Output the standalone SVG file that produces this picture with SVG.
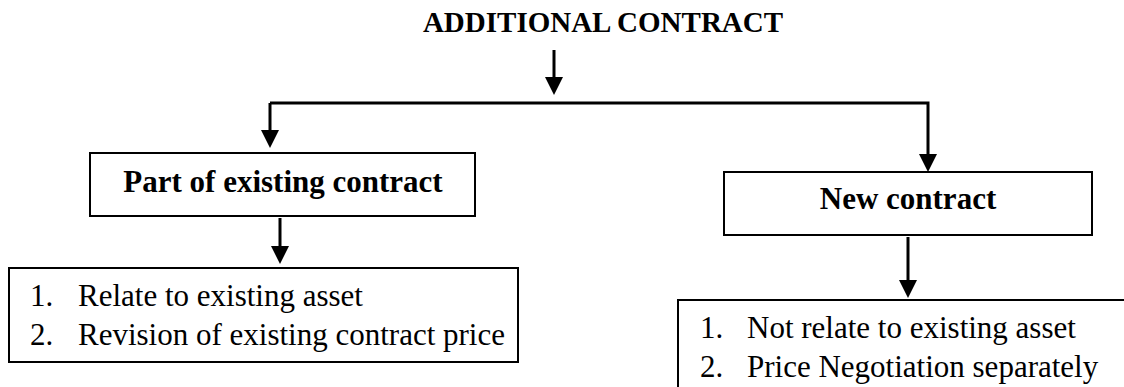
<svg xmlns="http://www.w3.org/2000/svg" width="1124" height="387" viewBox="0 0 1124 387">
  <defs>
    <style>
      .box { fill: #ffffff; stroke: #000000; stroke-width: 2; }
      .link { fill: none; stroke: #000000; stroke-width: 3; stroke-linejoin: miter; }
      .title { font-family: "Liberation Serif", "Times New Roman", serif; font-weight: bold; font-size: 29px; fill: #000000; }
      .head { font-family: "Liberation Serif", "Times New Roman", serif; font-weight: bold; font-size: 31px; fill: #000000; }
      .item { font-family: "Liberation Serif", "Times New Roman", serif; font-size: 31px; fill: #000000; }
    </style>
    <marker id="arrow" viewBox="0 0 18 18" refX="2" refY="9" markerWidth="18" markerHeight="18" markerUnits="userSpaceOnUse" orient="auto">
      <path d="M0,0 L18,9 L0,18 z" fill="#000000"/>
    </marker>
  </defs>

  <rect width="1124" height="387" fill="#ffffff"/>

  <!-- connectors -->
  <g id="connectors">
    <path class="link" d="M554,50 V79" marker-end="url(#arrow)"/>
    <path class="link" d="M270,103 V132" marker-end="url(#arrow)"/>
    <path class="link" d="M270,103 H928 V156" marker-end="url(#arrow)"/>
    <path class="link" d="M280,218 V248" marker-end="url(#arrow)"/>
    <path class="link" d="M908,237 V282" marker-end="url(#arrow)"/>
  </g>

  <!-- root heading -->
  <g id="additional-contract">
    <text class="title" x="603" y="32" text-anchor="middle">ADDITIONAL CONTRACT</text>
  </g>

  <!-- left branch -->
  <g id="part-of-existing">
    <rect class="box" x="90" y="153" width="385" height="63"/>
    <text class="head" x="283" y="192" text-anchor="middle">Part of existing contract</text>
  </g>

  <g id="existing-details">
    <rect class="box" x="9" y="268" width="509" height="94"/>
    <text class="item" x="30" y="306">1.</text>
    <text class="item" x="78" y="306">Relate to existing asset</text>
    <text class="item" x="30" y="345">2.</text>
    <text class="item" x="78" y="345">Revision of existing contract price</text>
  </g>

  <!-- right branch -->
  <g id="new-contract">
    <rect class="box" x="724" y="172" width="368" height="63"/>
    <text class="head" x="908" y="209" text-anchor="middle">New contract</text>
  </g>

  <g id="new-details">
    <rect class="box" x="678" y="300" width="460" height="100"/>
    <text class="item" x="700" y="338">1.</text>
    <text class="item" x="747" y="338">Not relate to existing asset</text>
    <text class="item" x="700" y="377">2.</text>
    <text class="item" x="747" y="377">Price Negotiation separately</text>
  </g>
</svg>
